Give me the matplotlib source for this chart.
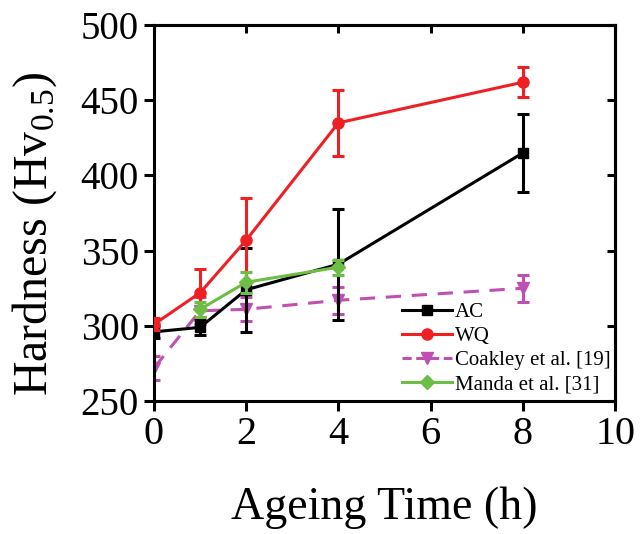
import numpy as np
import matplotlib.pyplot as plt
from matplotlib.lines import Line2D

# ageing time (h)
t_ac = [0, 1, 2, 4, 8]
hv_ac = [296, 299, 324, 341, 415]
err_ac = [4, 5, 28, 37, 26]

t_wq = [0, 1, 2, 4, 8]
hv_wq = [301, 322, 357, 435, 462]
err_wq = [4, 16, 28, 22, 10]

t_coak = [0, 1, 2, 4, 8]
hv_coak = [272, 310, 311, 317, 325]
err_coak = [8, 9, 8, 9, 9]

t_manda = [1, 2, 4]
hv_manda = [311, 329, 339]
err_manda = [5, 7, 5]

plt.rcParams['font.family'] = 'Liberation Serif'
plt.rcParams['mathtext.fontset'] = 'custom'
plt.rcParams['mathtext.rm'] = 'Liberation Serif'

fig = plt.figure(figsize=(6.4, 5.34), dpi=100)
ax = fig.add_axes([0.2406, 0.249, 0.7204, 0.704])

lw = 2.2
c_ac, c_wq, c_coak, c_manda = 'black', '#EE2024', '#BF4FB0', '#6DBE45'
dash = (0, (5, 3.5))
ax.errorbar(t_ac, hv_ac, yerr=err_ac, color=c_ac, marker='s', ms=7, lw=lw,
            capsize=4, capthick=lw, elinewidth=lw, zorder=3)
ax.errorbar(t_wq, hv_wq, yerr=err_wq, color=c_wq, marker='o', ms=8, lw=lw,
            capsize=4, capthick=lw, elinewidth=lw, zorder=4)
ax.errorbar(t_coak, hv_coak, yerr=err_coak, color=c_coak, marker='v', ms=8, lw=lw,
            ls=dash, capsize=4, capthick=lw, elinewidth=lw, zorder=2)
ax.errorbar(t_manda, hv_manda, yerr=err_manda, color=c_manda, marker='D', ms=7, lw=lw,
            capsize=4, capthick=lw, elinewidth=lw, zorder=5)

ax.set_xlim(0, 10)
ax.set_ylim(250, 500)
ax.set_xticks([0, 2, 4, 6, 8, 10])
ax.set_yticks([250, 300, 350, 400, 450, 500])

for s in ax.spines.values():
    s.set_linewidth(2.2)
ax.tick_params(axis='both', which='major', direction='out', length=7, width=2.2,
               labelsize=28, pad=4)
ax.tick_params(axis='x', labelsize=29)

# inward ticks on top and right
top = ax.secondary_xaxis('top')
top.set_xticks([0, 2, 4, 6, 8, 10])
top.tick_params(direction='in', length=6, width=2.2, labeltop=False)
right = ax.secondary_yaxis('right')
right.set_yticks([250, 300, 350, 400, 450, 500])
right.tick_params(direction='in', length=6, width=2.2, labelright=False)
for sec in (top, right):
    for s in sec.spines.values():
        s.set_linewidth(2.2)

ax.set_xlabel('Ageing Time (h)', fontsize=33, labelpad=24)
ax.set_ylabel(r'Hardness (Hv$_{0.5}$)', fontsize=34.5)
ax.yaxis.set_label_coords(-0.205, 0.445)

handles = [
    Line2D([], [], color=c_ac, marker='s', ms=7, lw=lw),
    Line2D([], [], color=c_wq, marker='o', ms=8, lw=lw),
    Line2D([], [], color=c_coak, marker='v', ms=8, lw=lw, ls=(0, (3, 1.5))),
    Line2D([], [], color=c_manda, marker='D', ms=7, lw=lw),
]
labels = ['AC', 'WQ', 'Coakley et al. [19]', 'Manda et al. [31]']
leg = ax.legend(handles, labels, loc='lower left', bbox_to_anchor=(0.52, -0.005),
                frameon=False, fontsize=15, handlelength=2.4, handletextpad=0.15,
                labelspacing=0.22, borderaxespad=0)

fig.savefig('out.png', dpi=100)
